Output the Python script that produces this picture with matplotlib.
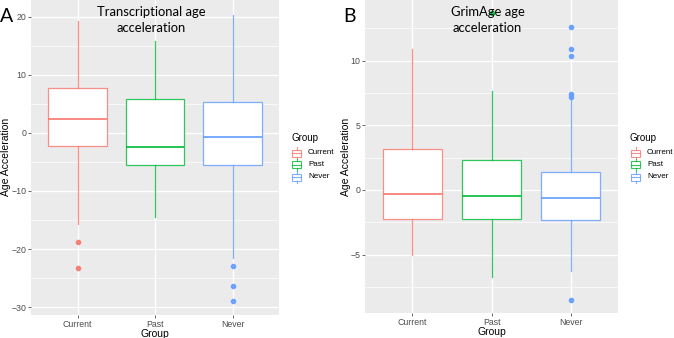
import matplotlib
matplotlib.use("Agg")
import matplotlib.pyplot as plt
from matplotlib.patches import Rectangle
from matplotlib.lines import Line2D
from matplotlib.colors import to_rgba

plt.rcParams["font.family"] = ["Liberation Sans", "DejaVu Sans"]

groups = ["Current", "Past", "Never"]
colors = ["#F8766D", "#00BA38", "#619CFF"]

# panel A: transcriptional age acceleration
a_q1 = [-2.2, -5.5, -5.6]
a_med = [2.4, -2.4, -0.7]
a_q3 = [7.8, 5.9, 5.3]
a_lo = [-15.7, -14.5, -21.6]
a_hi = [19.3, 15.9, 20.4]
a_out = [[-18.8, -23.3], [], [-22.9, -26.3, -28.9]]

# panel B: GrimAge age acceleration
b_q1 = [-2.27, -2.22, -2.29]
b_med = [-0.33, -0.49, -0.64]
b_q3 = [3.15, 2.3, 1.42]
b_lo = [-5.03, -6.7, -6.24]
b_hi = [10.88, 7.68, 7.09]
b_out = [[], [13.7], [12.58, 10.93, 10.36, 7.4, 7.17, -8.5]]

W, H = 674, 338
fig = plt.figure(figsize=(W / 100, H / 100), dpi=100)


def px(x, y):
    return x / W, 1 - y / H


def panel(left, right, bottom, ylim, ticks, q1, med, q3, lo, hi, out,
          title, letter, letter_x, ylab_x, leg_x):
    x0, y0 = px(left, bottom)
    x1, _ = px(right, 0)
    ax = fig.add_axes([x0, y0, x1 - x0, 1 - y0])
    ax.set_facecolor("#EBEBEB")
    ax.set_xlim(0.4, 3.6)
    ax.set_ylim(*ylim)
    step = ticks[1] - ticks[0]
    minor = [ticks[0] - step / 2] + [t + step / 2 for t in ticks]
    for m in minor:
        ax.axhline(m, color="white", lw=0.5, zorder=0)
    for t in ticks:
        ax.axhline(t, color="white", lw=1.0, zorder=0)
    for i in range(3):
        ax.axvline(i + 1, color="white", lw=1.0, zorder=0)
    for sp in ax.spines.values():
        sp.set_visible(False)

    for i in range(3):
        c = colors[i]
        ce = to_rgba(c, 0.8)
        st = dict(med=med[i], q1=q1[i], q3=q3[i], whislo=lo[i],
                  whishi=hi[i], fliers=out[i])
        ax.bxp([st], positions=[i + 1], widths=0.75, patch_artist=True,
               showcaps=False, manage_ticks=False,
               boxprops=dict(facecolor="white", edgecolor=ce, lw=0.9),
               whiskerprops=dict(color=ce, lw=0.9),
               medianprops=dict(color=c, lw=1.2),
               flierprops=dict(marker="o", markersize=3, markerfacecolor=c,
                               markeredgecolor=c, alpha=0.9))

    ax.set_yticks(ticks)
    ax.set_yticklabels([str(t).replace("-", "\u2212") for t in ticks])
    ax.set_xticks([1, 2, 3])
    ax.set_xticklabels(groups)
    ax.tick_params(colors="#4D4D4D", labelsize=6.3, length=2, width=0.6, pad=1.5)
    ax.tick_params(axis="x", pad=1.5)
    ax.set_xlabel("Group", fontsize=7.5, labelpad=0)

    # title overlay
    tx = (left + right) / 2 - 4
    fig.text(*px(tx, 20.5), title, ha="center", va="center", fontsize=9.4,
             family="Lato", linespacing=1.4)
    fig.text(*px(letter_x, 16), letter, ha="left", va="center", fontsize=14,
             family="Lato")
    fig.text(*px(ylab_x, 157), "Age Acceleration", rotation=90,
             ha="center", va="center", fontsize=7.5)

    # legend
    fig.text(*px(leg_x, 138), "Group", ha="left", va="center", fontsize=7)
    for k in range(3):
        cy = 153 + 12 * k
        c = colors[k]
        ce = to_rgba(c, 0.8)
        kx0, ky0 = px(leg_x + 1, cy + 3.5)
        kx1, ky1 = px(leg_x + 10, cy - 3.5)
        fig.add_artist(Rectangle((kx0, ky0), kx1 - kx0, ky1 - ky0,
                                 transform=fig.transFigure, facecolor="white",
                                 edgecolor=ce, lw=0.8, zorder=3))
        mx0, my = px(leg_x + 1, cy)
        mx1, _ = px(leg_x + 10, cy)
        fig.add_artist(Line2D([mx0, mx1], [my, my], transform=fig.transFigure,
                              color=ce, lw=0.8, zorder=4))
        vx, vy0 = px(leg_x + 5.5, cy - 6)
        _, vy1 = px(leg_x + 5.5, cy - 3.5)
        _, vy2 = px(leg_x + 5.5, cy + 3.5)
        _, vy3 = px(leg_x + 5.5, cy + 6)
        fig.add_artist(Line2D([vx, vx], [vy0, vy1], transform=fig.transFigure,
                              color=ce, lw=0.8, zorder=4))
        fig.add_artist(Line2D([vx, vx], [vy2, vy3], transform=fig.transFigure,
                              color=ce, lw=0.8, zorder=4))
        fig.text(*px(leg_x + 17, cy), groups[k], ha="left", va="center",
                 fontsize=5.8, color="black")
    return ax


panel(31, 279, 315, (-31.36, 22.9), [-30, -20, -10, 0, 10, 20],
      a_q1, a_med, a_q3, a_lo, a_hi, a_out,
      "Transcriptional age\nacceleration", "A", 0, 6, 291)
panel(365, 618, 313.3, (-9.54, 14.69), [-5, 0, 5, 10],
      b_q1, b_med, b_q3, b_lo, b_hi, b_out,
      "GrimAge age\nacceleration", "B", 343, 346, 630)

fig.savefig("out.png", dpi=100)
